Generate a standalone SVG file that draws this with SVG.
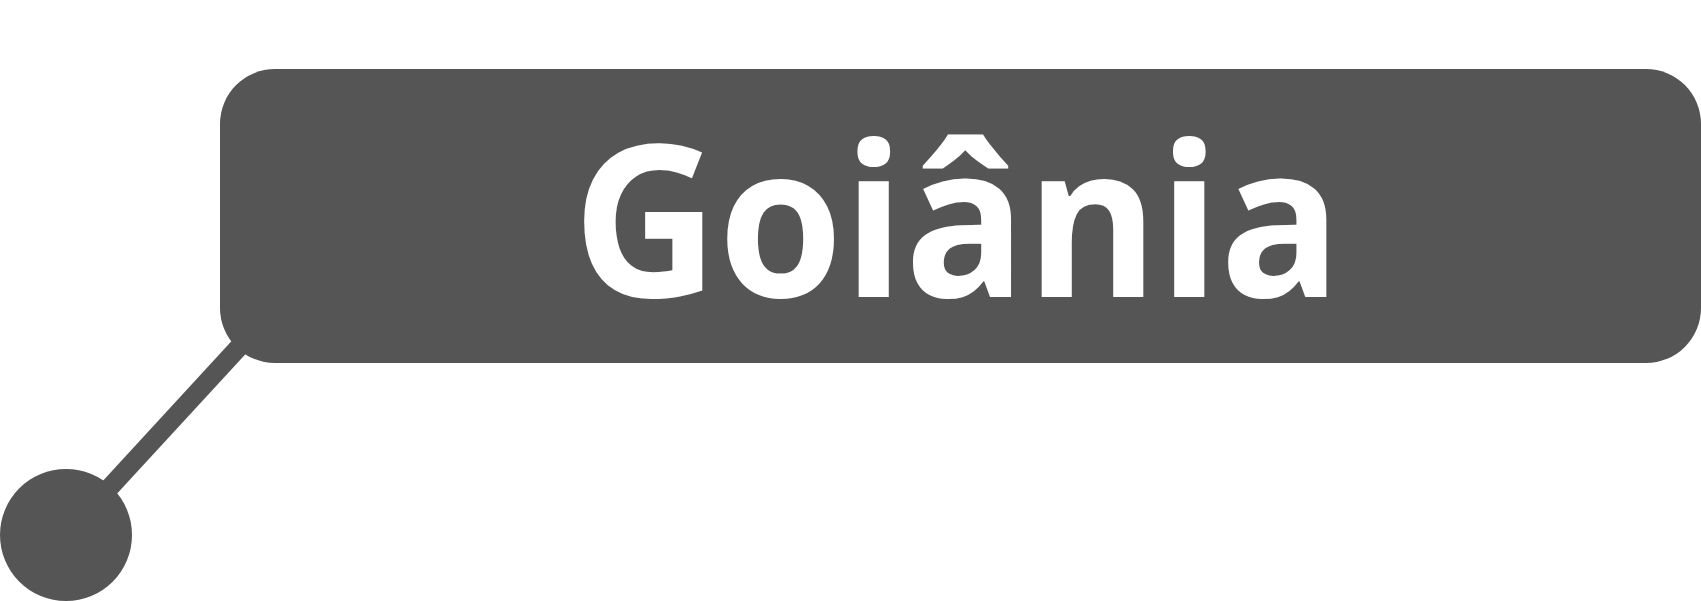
<svg xmlns="http://www.w3.org/2000/svg" width="1701" height="601" viewBox="0 0 1701 601">
  <style>
    .shape { fill: #555555; }
    .conn { stroke: #555555; stroke-width: 19; fill: none; }
    .label { fill: #ffffff; font-family: "Open Sans", "Noto Sans", "Liberation Sans", sans-serif; font-weight: bold; font-size: 212px; }
  </style>
  <g id="connectors">
    <line class="conn" x1="66" y1="535" x2="275" y2="308"/>
  </g>
  <g id="node-goiania">
    <rect class="shape" x="220" y="69" width="1481" height="294" rx="55" ry="55"/>
    <text class="label" x="957" y="297" text-anchor="middle" textLength="769" lengthAdjust="spacingAndGlyphs">Goiânia</text>
  </g>
  <g id="node-point">
    <circle class="shape" cx="66" cy="535" r="66"/>
  </g>
</svg>
